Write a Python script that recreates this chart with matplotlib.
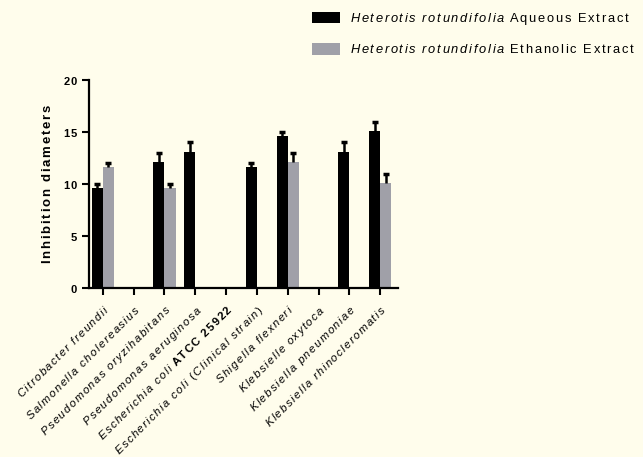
import numpy as np
import matplotlib.pyplot as plt

# Inhibition diameters (mm) for each strain
strains = [
    "Citrobacter freundii",
    "Salmonella cholereasius",
    "Pseudomonas oryzihabitans",
    "Pseudomonas aeruginosa",
    "Escherichia coli ATCC 25922",
    "Escherichia coli (Clinical strain)",
    "Shigella flexneri",
    "Klebsielle oxytoca",
    "Klebsiella pneumoniae",
    "Klebsiella rhinocleromatis",
]
aqueous = [9.6, np.nan, 12.1, 13.1, np.nan, 11.6, 14.6, np.nan, 13.1, 15.1]
aqueous_err = [0.4, 0, 0.9, 0.9, 0, 0.4, 0.4, 0, 0.9, 0.9]
ethanolic = [11.6, np.nan, 9.6, np.nan, np.nan, np.nan, 12.1, np.nan, np.nan, 10.1]
ethanolic_err = [0.4, 0, 0.4, 0, 0, 0, 0.9, 0, 0, 0.9]
yticks = [0, 5, 10, 15, 20]

bg = '#FFFDEC'
grey = '#A0A0A8'

plt.rcParams['font.family'] = 'Liberation Sans'
plt.rcParams['mathtext.fontset'] = 'custom'
plt.rcParams['mathtext.rm'] = 'Liberation Sans'
plt.rcParams['mathtext.it'] = 'Liberation Sans:italic'
plt.rcParams['mathtext.bf'] = 'Liberation Sans:bold'


def spaced(s, style='mathrm', sp=0.15):
    # letter-spaced run of text in mathtext
    chars = [r'\hspace{0.3}' if c == ' ' else c for c in s]
    return '\\%s{%s}' % (style, (r'\hspace{%g}' % sp).join(chars))


def strain_label(name):
    if 'ATCC' in name:
        head, tail = name.split('ATCC')
        return '$' + spaced(head, 'mathit') + spaced('ATCC' + tail, 'mathbf') + '$'
    return '$' + spaced(name, 'mathit') + '$'


def extract_label(kind):
    return ('$' + spaced('Heterotis rotundifolia', 'mathit', 0.16) + r'\hspace{0.55}'
            + spaced(kind + ' Extract', 'mathrm', 0.16) + '$')


fig = plt.figure(figsize=(6.43, 4.57), dpi=100, facecolor=bg)
ax = fig.add_axes([89/643, 1 - 288/457, 309/643, 208/457], facecolor=bg)

x = np.arange(len(strains))
w = 0.36
ax.bar(x - w/2, aqueous, w, color='black', label=extract_label('Aqueous'))
ax.bar(x + w/2, ethanolic, w, color=grey, label=extract_label('Ethanolic'))

# upward-only error bars
for xs, vals, errs in [(x - w/2, aqueous, aqueous_err), (x + w/2, ethanolic, ethanolic_err)]:
    _, caps, _ = ax.errorbar(xs, vals, yerr=[np.zeros(len(xs)), errs], fmt='none',
                             ecolor='black', elinewidth=1.8, capsize=2, capthick=2.5)
    caps[0].set_visible(False)

ax.set_xlim(-0.45, 9.58)
ax.set_ylim(0, 20)
ax.set_yticks(yticks)
ax.set_yticklabels(['$' + spaced(str(v), 'mathbf', 0.12) + '$' for v in yticks], fontsize=8)
ax.set_xticks(x)
ax.set_xticklabels([strain_label(s) for s in strains], rotation=45, ha='right', va='top',
                   rotation_mode='anchor', fontsize=8.2)
ax.tick_params(axis='both', width=1.5, length=5, direction='out', color='black')
ax.tick_params(axis='y', pad=3)
ax.tick_params(axis='x', pad=6)

for s in ['top', 'right']:
    ax.spines[s].set_visible(False)
for s in ['left', 'bottom']:
    ax.spines[s].set_linewidth(1.6)

ax.set_ylabel('$' + spaced('Inhibition diameters', 'mathbf', 0.16) + '$', fontsize=9.5, labelpad=6)

fig.legend(loc='upper left', bbox_to_anchor=(312/643, 1 - 11/457), frameon=False,
           fontsize=9.3, handlelength=2.15, handleheight=1.0, handletextpad=0.8,
           labelspacing=1.25, borderpad=0, borderaxespad=0)

fig.savefig('out.png', dpi=100, facecolor=bg)
